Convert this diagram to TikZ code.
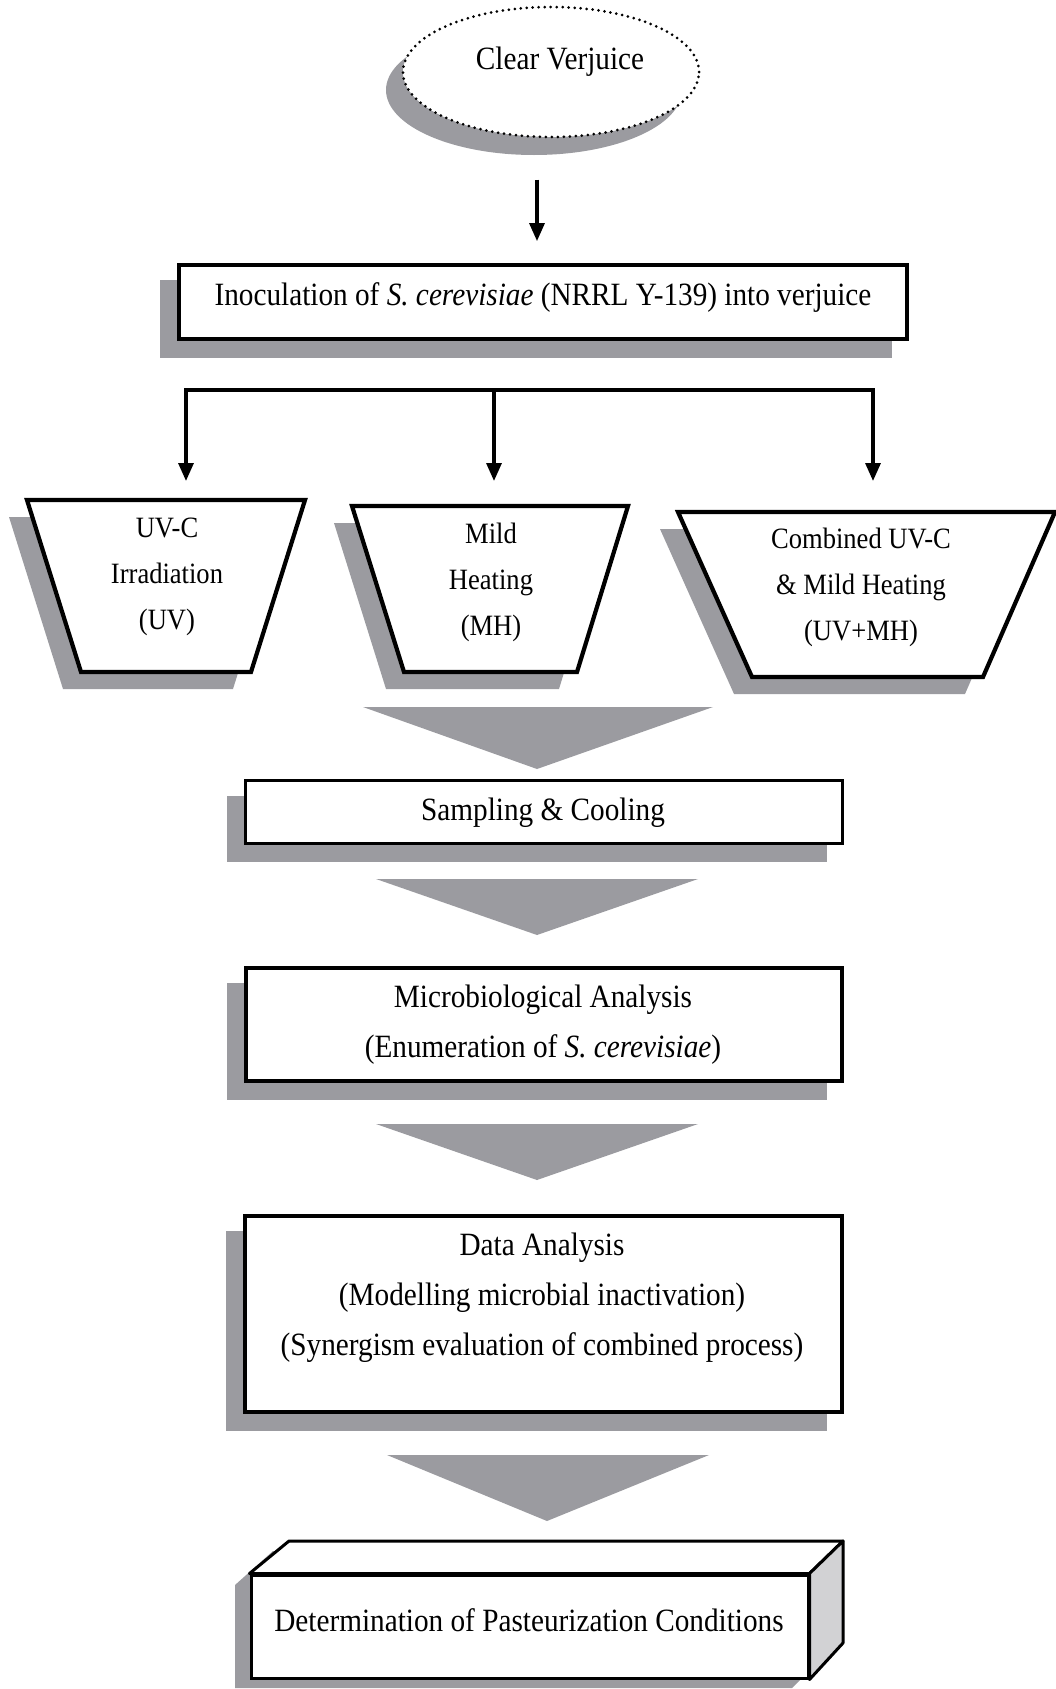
\documentclass[tikz,border=0pt]{standalone}
\usepackage{fontspec}
\setmainfont{Liberation Serif}[FakeStretch=0.9]
\usetikzlibrary{shapes.geometric,arrows.meta,backgrounds}
\definecolor{shadowgray}{RGB}{155,155,160}
\definecolor{facegray}{RGB}{210,210,212}
\begin{document}
\begin{tikzpicture}[x=1pt,y=-1pt,
  shd/.style={fill=shadowgray,draw=none},
  boxst/.style={draw=black,line width=3.8pt,fill=white,rectangle,inner sep=0pt},
  trap/.style={draw=black,line width=4.2pt,fill=white,line join=miter},
  txt/.style={font=\fontsize{32.5}{50}\selectfont,align=center,inner sep=0pt},
  ttxt/.style={font=\fontsize{29.5}{46}\selectfont,align=center,inner sep=0pt},
  conn/.style={line width=3.2pt,-{Triangle[length=18pt,width=15pt]}},
  chev/.style={fill=shadowgray,draw=none}]
\useasboundingbox (0,0) rectangle (1056,1689);

% ---- Clear Verjuice ----
\fill[shd] (534,90) ellipse [x radius=148,y radius=65];
\node[ellipse,draw=black,fill=white,line width=3pt,dash pattern=on 0pt off 6pt,line cap=round,
      minimum width=296pt,minimum height=130pt,inner sep=0pt] (cv) at (551,72) {};
\node[txt] (cvt) at (560,62) {Clear Verjuice};

% ---- Inoculation ----
\node[boxst,minimum width=728pt,minimum height=74pt] (inoc) at (543,302) {};
\node[txt] (inoct) at (543,298) {Inoculation of \textit{S. cerevisiae} (NRRL Y-139) into verjuice};

\coordinate (ax) at (537,0);
\draw[conn,shorten <=41pt,shorten >=22pt] (cv.south -| ax) -- (inoc.north -| ax);

% ---- branch ----
\coordinate (bl) at (186,390);
\coordinate (bm) at (494,390);
\coordinate (br) at (873,390);
\coordinate (a1) at (186,481);
\coordinate (a2) at (494,481);
\coordinate (a3) at (873,481);
\draw[line width=3.2pt,line cap=rect] (bl) -- (br);
\draw[conn] (bl) -- (a1);
\draw[conn] (bm) -- (a2);
\draw[conn] (br) -- (a3);

% ---- trapezoids ----
\fill[shd] (9,517) -- (287,517) -- (233,689) -- (63,689) -- cycle;
\fill[shd] (334,523) -- (610,523) -- (559,689) -- (386,689) -- cycle;
\fill[shd] (660,529) -- (1037,529) -- (965,694) -- (734,694) -- cycle;
\draw[trap] (27,500) -- (305,500) -- (251,672) -- (81,672) -- cycle;
\draw[trap] (352,506) -- (628,506) -- (577,672) -- (404,672) -- cycle;
\draw[trap] (678,512) -- (1055,512) -- (983,677) -- (752,677) -- cycle;
\node[ttxt] (t1) at (167,577) {UV-C\\Irradiation\\(UV)};
\node[ttxt] (t2) at (491,582) {Mild\\Heating\\(MH)};
\node[ttxt] (t3) at (861,587) {Combined UV-C\\\& Mild Heating\\(UV+MH)};

% ---- chevrons ----
\fill[chev] (363,707) -- (713,707) -- (537,769) -- cycle;
\fill[chev] (376,879) -- (698,879) -- (537,935) -- cycle;
\fill[chev] (376,1124) -- (698,1124) -- (537,1180) -- cycle;
\fill[chev] (387,1455) -- (709,1455) -- (547,1521) -- cycle;

% ---- boxes ----
\node[boxst,line width=3pt,minimum width=597pt,minimum height=63pt] (samp) at (543.5,811.5) {};
\node[txt] (sampt) at (543,813) {Sampling \& Cooling};

\node[boxst,minimum width=596pt,minimum height=113pt] (micro) at (544,1024.5) {};
\node[txt] (microt) at (543,1025) {Microbiological Analysis\\(Enumeration of \textit{S. cerevisiae})};

\node[boxst,minimum width=597pt,minimum height=196pt] (data) at (543.5,1314) {};
\node[txt] (datat) at (542,1298) {Data Analysis\\(Modelling microbial inactivation)\\(Synergism evaluation of combined process)};

% ---- final cube ----
\fill[shd] (235,1688) -- (235,1585) -- (273,1551) -- (827,1551) -- (827,1653) -- (792,1688) -- cycle;
\node[boxst,line width=3pt,minimum width=557pt,minimum height=103pt] (det) at (529.5,1626.5) {};
\filldraw[draw=black,fill=white,line width=3pt,line join=round] (det.north west) -- (289,1541) -- (843,1541) -- (det.north east) -- cycle;
\filldraw[draw=black,fill=facegray,line width=3pt,line join=round] (det.north east) -- (843,1541) -- (843,1643) -- (det.south east) -- cycle;
\node[txt] (dett) at (529,1620) {Determination of Pasteurization Conditions};

% ---- shadows of boxes ----
\begin{scope}[on background layer]
  \foreach \n in {inoc,samp,micro,data}{
    \fill[shd] ([shift={(-17,17)}]\n.south west) rectangle ([shift={(-17,17)}]\n.north east);
  }
\end{scope}
\end{tikzpicture}
\end{document}
